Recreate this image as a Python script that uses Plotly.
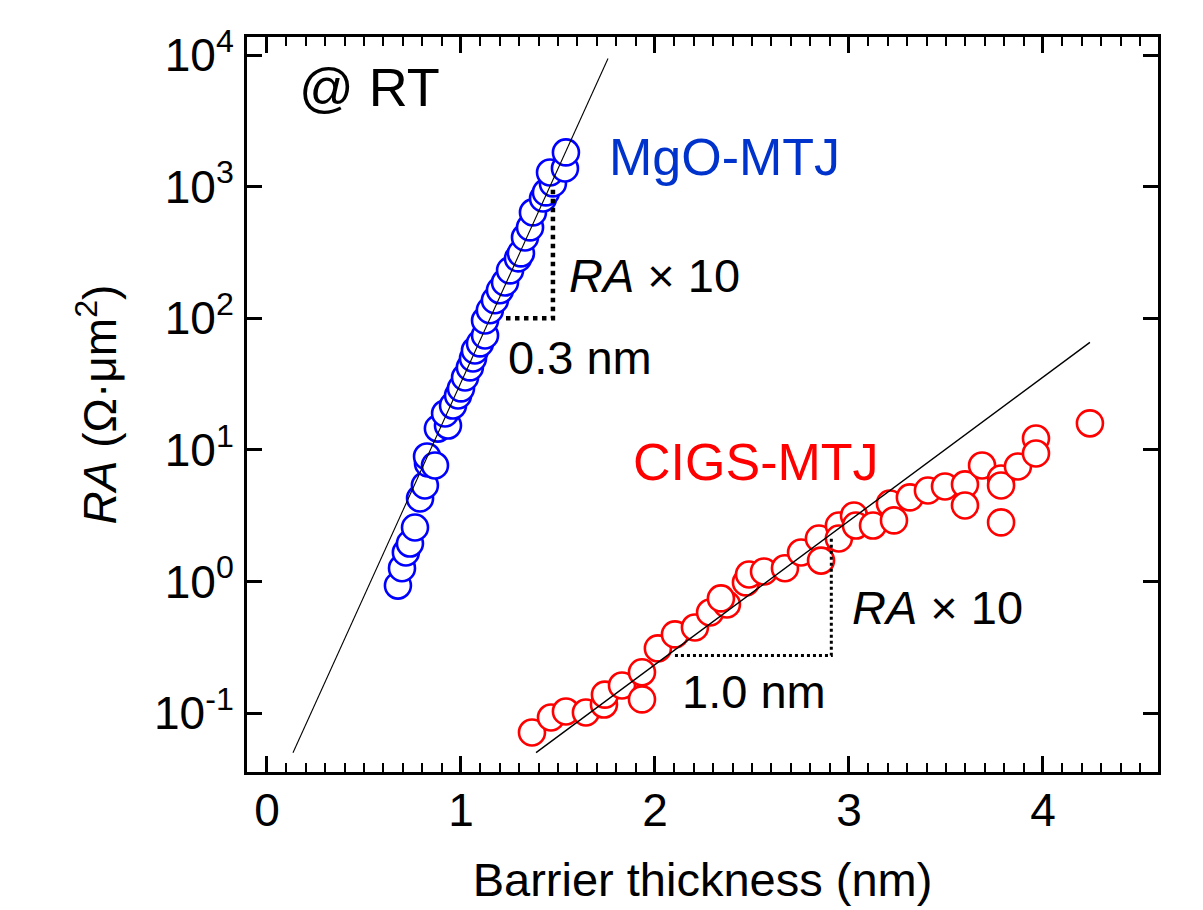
import plotly.graph_objects as go

# ---- data ----
mgo_thickness = [0.675, 0.696, 0.716, 0.737, 0.763, 0.789, 0.814, 0.830, 0.825, 0.866,
                 0.881, 0.933, 0.918, 0.959, 0.985, 1.000, 1.021, 1.046, 1.062, 1.072,
                 1.098, 1.124, 1.124, 1.149, 1.175, 1.201, 1.227, 1.253, 1.294, 1.309,
                 1.330, 1.356, 1.371, 1.423, 1.438, 1.474, 1.459, 1.536, 1.541]
mgo_ra = [0.93, 1.26, 1.66, 1.94, 2.57, 4.27, 5.36, 7.88, 8.91, 7.61,
          14.5, 15.3, 18.9, 21.7, 25.9, 29.3, 35.5, 42.3, 49.5, 56.9,
          64.4, 74.0, 96.2, 115, 137, 163, 187, 231, 285, 311,
          411, 490, 637, 813, 904, 1058, 1282, 1375, 1820]

cigs_thickness = [1.366, 1.464, 1.541, 1.644, 1.737, 1.742, 1.830, 1.933, 1.933, 2.015,
                  2.103, 2.206, 2.284, 2.371, 2.340, 2.469, 2.485, 2.562, 2.670, 2.753,
                  2.845, 2.856, 2.948, 2.948, 3.026, 3.036, 3.124, 3.211, 3.232, 3.314,
                  3.407, 3.495, 3.598, 3.598, 3.686, 3.784, 3.784, 3.784, 3.871, 3.964,
                  3.964, 4.242]
cigs_ra = [0.0712, 0.0926, 0.1028, 0.101, 0.116, 0.138, 0.162, 0.127, 0.204, 0.310,
           0.396, 0.447, 0.581, 0.668, 0.743, 0.983, 1.13, 1.19, 1.26, 1.66,
           2.12, 1.44, 2.66, 2.12, 3.17, 2.66, 2.66, 3.91, 2.91, 4.35,
           4.91, 5.27, 5.46, 3.78, 7.61, 6.06, 5.36, 2.81, 7.48, 12.2,
           9.39, 15.9]

# exponential fits (end points of the straight lines in log scale)
mgo_fit_x = [0.134, 1.758]
mgo_fit_y = [0.050, 9420]
cigs_fit_x = [1.387, 4.242]
cigs_fit_y = [0.050, 65.5]

# slope guides (dotted)
mgo_guide_x = [1.232, 1.474, 1.474]
mgo_guide_y = [100, 100, 1000]
cigs_guide_x = [2.103, 2.909, 2.909]
cigs_guide_y = [0.274, 0.274, 2.17]

y_tickvals = [0.1, 1, 10, 100, 1000, 10000]
y_ticktext = ["10<sup>-1</sup>", "10<sup>0</sup>", "10<sup>1</sup>",
              "10<sup>2</sup>", "10<sup>3</sup>", "10<sup>4</sup>"]
x_tickvals = [0, 1, 2, 3, 4]

FONT = "Liberation Sans, Arial, sans-serif"
BLUE = "#0000FF"
RED = "#FF0000"

fig = go.Figure()

fig.add_trace(go.Scatter(
    x=mgo_thickness, y=mgo_ra, mode="markers", name="MgO-MTJ",
    marker=dict(symbol="circle", size=26, color="white",
                line=dict(color=BLUE, width=2.6)),
    showlegend=False))
fig.add_trace(go.Scatter(
    x=cigs_thickness, y=cigs_ra, mode="markers", name="CIGS-MTJ",
    marker=dict(symbol="circle", size=26, color="white",
                line=dict(color=RED, width=2.6)),
    showlegend=False))

fig.add_trace(go.Scatter(x=mgo_fit_x, y=mgo_fit_y, mode="lines",
                         line=dict(color="black", width=1.1), showlegend=False))
fig.add_trace(go.Scatter(x=cigs_fit_x, y=cigs_fit_y, mode="lines",
                         line=dict(color="black", width=1.4), showlegend=False))

fig.add_trace(go.Scatter(x=mgo_guide_x, y=mgo_guide_y, mode="lines",
                         line=dict(color="black", width=4.5, dash="dot"),
                         showlegend=False))
fig.add_trace(go.Scatter(x=cigs_guide_x, y=cigs_guide_y, mode="lines",
                         line=dict(color="black", width=3, dash="dot"),
                         showlegend=False))

annotations = [
    dict(x=0.526, y=3.754, text="@ RT", font=dict(size=54, color="black")),
    dict(x=2.358, y=3.222, text="MgO-MTJ", font=dict(size=52, color="#0033CC")),
    dict(x=2.521, y=0.904, text="CIGS-MTJ", font=dict(size=52, color=RED)),
    dict(x=2.0, y=2.325, text="<i>RA</i> × 10", font=dict(size=47, color="black")),
    dict(x=1.613, y=1.702, text="0.3 nm", font=dict(size=47, color="black")),
    dict(x=3.454, y=-0.198, text="<i>RA</i> × 10", font=dict(size=47, color="black")),
    dict(x=2.51, y=-0.836, text="1.0 nm", font=dict(size=47, color="black")),
]
for a in annotations:
    a.update(xref="x", yref="y", showarrow=False, xanchor="center", yanchor="middle")
    a["font"]["family"] = FONT

fig.update_layout(
    width=1203, height=910,
    margin=dict(l=239, r=53, t=29, b=146, autoexpand=False),
    paper_bgcolor="white", plot_bgcolor="white",
    font=dict(family=FONT, size=46, color="black"),
    annotations=annotations,
    xaxis=dict(
        range=[-0.103, 4.593], tickvals=x_tickvals, automargin=False,
        ticks="inside", ticklen=16, tickwidth=2.5, tickcolor="black",
        minor=dict(dtick=0.1, ticks="inside", ticklen=9, tickwidth=2, tickcolor="black"),
        showline=True, linewidth=3, linecolor="black", mirror="ticks",
        showgrid=False, zeroline=False,
        tickfont=dict(size=46), ticklabelstandoff=-4,
        title=dict(text="Barrier thickness (nm)", font=dict(size=47), standoff=28),
    ),
    yaxis=dict(
        type="log", range=[-1.448, 4.137], automargin=False,
        tickvals=y_tickvals, ticktext=y_ticktext,
        ticks="inside", ticklen=15, tickwidth=2.5, tickcolor="black",
        showline=True, linewidth=3, linecolor="black", mirror="ticks",
        showgrid=False, zeroline=False,
        tickfont=dict(size=46), ticklabelstandoff=1,
        title=dict(text="<i>RA</i> (Ω·μm<sup>2</sup>)", font=dict(size=46), standoff=23),
    ),
)

fig.write_html("out.html")
